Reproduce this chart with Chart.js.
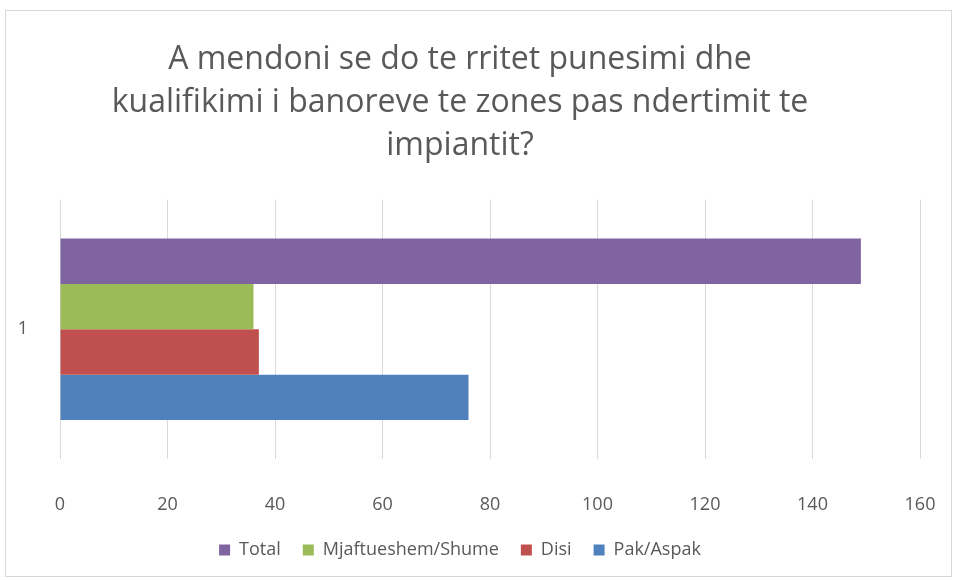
<!DOCTYPE html>
<html>
<head>
<meta charset="utf-8">
<script src="https://cdn.jsdelivr.net/npm/chart.js@4/dist/chart.umd.min.js"></script>
<style>
  html, body { margin: 0; padding: 0; background: #fff; }
  #wrap { position: relative; width: 954px; height: 580px; }
  #frame { position: absolute; left: 5px; top: 10px; width: 947px; height: 567px; border: 1px solid #d9d9d9; box-sizing: border-box; pointer-events: none; }
  canvas { display: block; }
</style>
</head>
<body>
<div id="wrap">
  <canvas id="c" width="954" height="580"></canvas>
  <div id="frame"></div>
</div>
<script>
const titleLines = ["A mendoni se do te rritet punesimi dhe", "kualifikimi i banoreve te zones pas ndertimit te", "impiantit?"];
const categories = ["1"];
const seriesNames = ["Total", "Mjaftueshem/Shume", "Disi", "Pak/Aspak"];
const totalValues = [149];
const mjaftueshemValues = [36];
const disiValues = [37];
const pakAspakValues = [76];
const seriesColors = ["#8064A2", "#9BBB59", "#C0504D", "#4F81BD"];
const xTicks = [0, 20, 40, 60, 80, 100, 120, 140, 160];

const seriesValues = [totalValues, mjaftueshemValues, disiValues, pakAspakValues];
const textColor = "#595959";
const fontFamily = "'Open Sans', Lato, sans-serif";

new Chart(document.getElementById('c'), {
  type: 'bar',
  data: {
    labels: categories,
    datasets: seriesNames.map((name, i) => ({
      label: name,
      data: seriesValues[i],
      backgroundColor: seriesColors[i],
      borderWidth: 0,
      barPercentage: 1.0,
      categoryPercentage: 0.7
    }))
  },
  options: {
    indexAxis: 'y',
    responsive: false,
    animation: false,
    devicePixelRatio: 1,
    layout: { padding: { top: 0, left: 0, right: 34, bottom: 11 } },
    plugins: {
      title: {
        display: true,
        text: titleLines,
        color: textColor,
        font: { family: fontFamily, size: 32, weight: 'normal', lineHeight: 1.35 },
        padding: { top: 38, bottom: 32 }
      },
      legend: {
        position: 'bottom',
        labels: {
          color: textColor,
          font: { family: fontFamily, size: 18 },
          boxWidth: 11,
          boxHeight: 11,
          padding: 22
        }
      },
      tooltip: { enabled: false }
    },
    scales: {
      x: {
        min: 0,
        max: 160,
        afterBuildTicks: (scale) => { scale.ticks = xTicks.map(v => ({ value: v })); },
        afterFit: (scale) => { scale.height = 60; scale.paddingRight = 0; scale.paddingLeft = 0; },
        grid: { color: '#d9d9d9', drawTicks: false },
        border: { display: false },
        ticks: { color: textColor, font: { family: fontFamily, size: 18 }, padding: 35 }
      },
      y: {
        afterFit: (scale) => { scale.width = 60; },
        grid: { display: false },
        border: { display: false },
        ticks: { color: textColor, font: { family: fontFamily, size: 18 }, padding: 24 }
      }
    }
  }
});
</script>
</body>
</html>
